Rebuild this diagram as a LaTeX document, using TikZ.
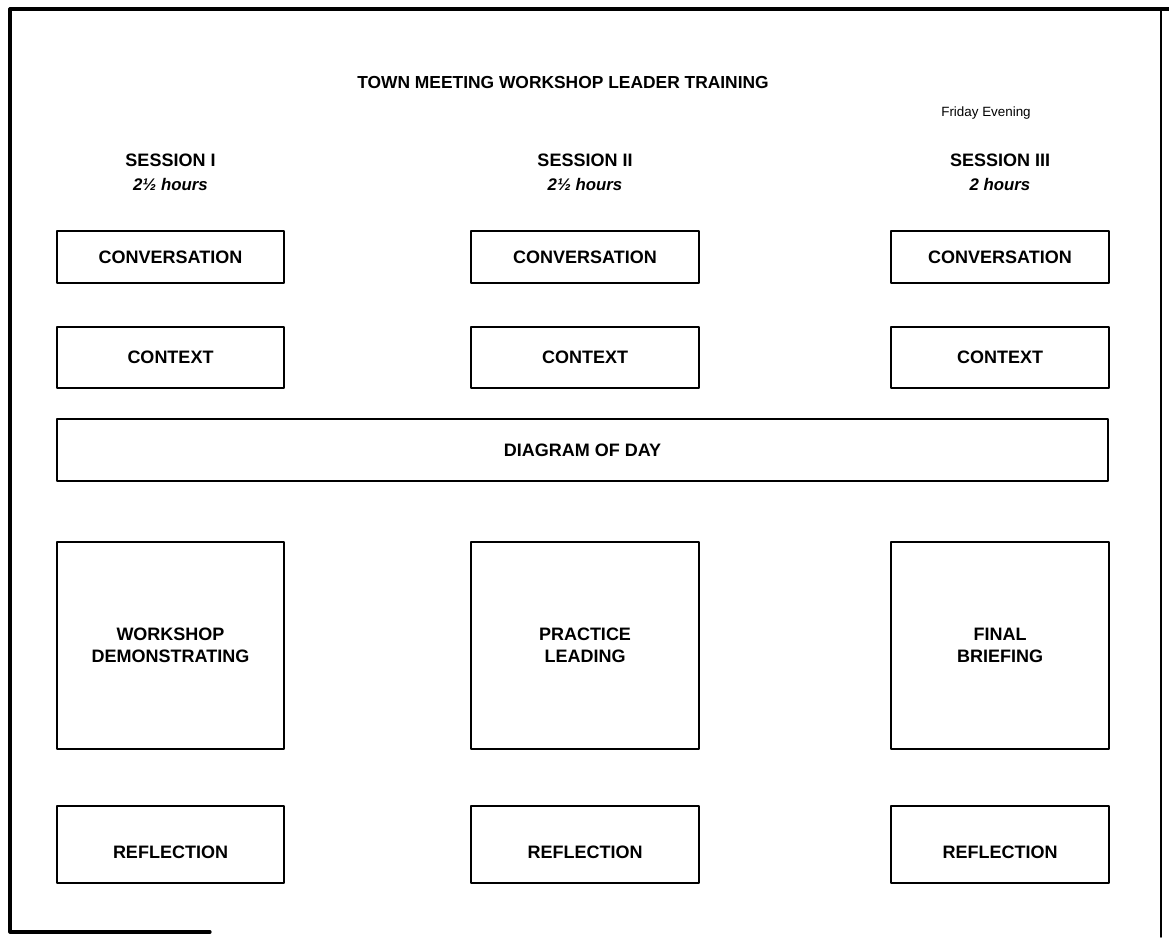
\documentclass[tikz,border=0pt]{standalone}
\usepackage{fontspec}
\setmainfont{Liberation Sans}

\tikzset{
  box/.style={draw, line width=2.8pt, rectangle, inner sep=0pt, align=center,
    font=\fontsize{18}{22}\selectfont\bfseries},
  refbox/.style={box, text height=27pt, text depth=0pt},
  head/.style={font=\fontsize{18}{22}\selectfont\bfseries},
  hours/.style={font=\fontsize{16.8}{20}\selectfont\bfseries\itshape}
}

\begin{document}
\begin{tikzpicture}[x=1pt, y=-1pt, line join=round, line cap=round]
\useasboundingbox (0,0) rectangle (1169,937);
% outer frame
\draw[line width=3.2pt] (1169,9) -- (10,9) -- (10,932) -- (210,932);
\draw[line width=1.6pt] (1161,9) -- (1161,937);

\node[head, font=\fontsize{17.4}{21}\selectfont\bfseries] (title) at (563,83) {TOWN MEETING WORKSHOP LEADER TRAINING};
\node[font=\fontsize{13.4}{16}\selectfont] (when) at (986,113) {Friday Evening};

% one column per session
\foreach \cx/\w/\n/\ses/\hrs/\job in {
    170.5/227/1/SESSION I/2½ hours/WORKSHOP\\DEMONSTRATING,
    585/228/2/SESSION II/2½ hours/PRACTICE\\LEADING,
    1000/218/3/SESSION III/2 hours/FINAL\\BRIEFING}{
  \node[head] (ses\n) at (\cx,160) {\ses};
  \node[hours] (hrs\n) at (\cx,184) {\hrs};
  \node[box, minimum width=\w, minimum height=52] (conv\n) at (\cx,257) {CONVERSATION};
  \node[box, minimum width=\w, minimum height=61] (ctx\n) at (\cx,357.5) {CONTEXT};
  \node[box, minimum width=\w, minimum height=207] (main\n) at (\cx,645.5) {\job};
  \node[refbox, minimum width=\w, minimum height=77] (refl\n) at (\cx,844.5) {REFLECTION};
}

\node[box, minimum width=1051, minimum height=62] (day) at (582.5,450) {DIAGRAM OF DAY};
\end{tikzpicture}
\end{document}
